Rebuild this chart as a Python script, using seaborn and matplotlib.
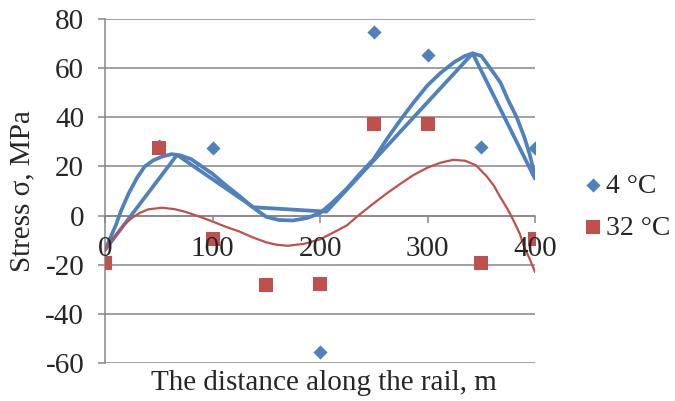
import matplotlib

matplotlib.use("Agg")
import matplotlib.pyplot as plt
import pandas as pd
import seaborn as sns

# measured points, stress in MPa along the rail (m)
dist = [0, 50, 100, 150, 200, 250, 300, 350, 400]
cold_x = [50, 100, 200, 250, 300, 350, 400]
cold_y = [28.3, 27.7, -55.7, 74.8, 65.3, 28.1, 27.7]
hot_y = [-19.2, 27.5, -9.7, -28.4, -28.0, 37.2, 37.2, -19.2, -9.7]

# blue broken line
cold_line_x = [0, 67, 138, 206, 342, 400]
cold_line_y = [-14, 24.7, 3.4, 1.6, 66, 15]

# trend curves
cold_trend_x = [0, 5, 10, 15, 22, 30, 37, 45, 53, 62, 70, 80, 90, 100, 112, 125,
                137, 150, 162, 175, 188, 200, 212, 225, 237, 250, 262, 275, 287,
                300, 312, 325, 335, 342, 350, 360, 368, 375, 383, 390, 395, 400]
cold_trend_y = [-14, -9, -4, 2, 9, 15.5, 20, 22.5, 24, 25, 24.5, 23, 20, 17, 12.5, 8,
                3.5, -0.5, -1.8, -2, -1, 1, 5.5, 11, 17, 23, 31, 39, 46,
                53, 58, 62.5, 65, 66, 65, 59, 54, 47, 40, 32, 25, 16]
hot_trend_x = [0, 5, 10, 17, 25, 32, 40, 53, 65, 75, 87, 100, 112, 125, 137, 150,
               160, 170, 185, 200, 212, 225, 237, 250, 262, 275, 287, 300, 312,
               324, 335, 345, 355, 362, 367, 374, 380, 386, 390, 395, 400]
hot_trend_y = [-14, -10.5, -8, -4, -1, 1, 2.5, 3.2, 2.6, 1.5, -0.3, -2.4, -4.5, -6.5, -8.8, -10.9,
               -11.9, -12.3, -11.5, -9.7, -7, -4, 0.5, 5, 9, 13, 16.5, 19.5, 21.5,
               22.7, 22.3, 20.5, 16, 12, 8, 3, -2, -7.5, -13, -17.5, -23]

y_ticks = [-60, -40, -20, 0, 20, 40, 60, 80]
x_ticks = [0, 100, 200, 300, 400]

BLUE = "#4F81BD"
RED = "#C0504D"
GREY = "#868686"
FS = 21

sns.set_theme(style="white")
plt.rcParams["font.family"] = ["Liberation Serif", "DejaVu Serif"]
plt.rcParams["font.size"] = FS

fig = plt.figure(figsize=(6.75, 4.01), dpi=100)
ax = fig.add_axes([105 / 675, 1 - 363 / 401, 430 / 675, 344 / 401])

cold_pts = pd.DataFrame({"x": cold_x, "y": cold_y})
hot_pts = pd.DataFrame({"x": dist, "y": hot_y})
cold_line = pd.DataFrame({"x": cold_line_x, "y": cold_line_y})
cold_trend = pd.DataFrame({"x": cold_trend_x, "y": cold_trend_y})
hot_trend = pd.DataFrame({"x": hot_trend_x, "y": hot_trend_y})

sns.lineplot(data=cold_line, x="x", y="y", ax=ax, color=BLUE, lw=2.7,
             sort=False, estimator=None, zorder=3)
sns.lineplot(data=cold_trend, x="x", y="y", ax=ax, color=BLUE, lw=2.7,
             sort=False, estimator=None, zorder=3)
sns.lineplot(data=hot_trend, x="x", y="y", ax=ax, color=RED, lw=1.6,
             sort=False, estimator=None, zorder=3)
sns.scatterplot(data=cold_pts, x="x", y="y", ax=ax, marker="D", s=52,
                color=BLUE, linewidth=0, label="4 °C", zorder=4)
sns.scatterplot(data=hot_pts, x="x", y="y", ax=ax, marker="s", s=110,
                color=RED, linewidth=0, label="32 °C", zorder=4)

ax.set_xlim(0, 400)
ax.set_ylim(-60, 80)
ax.set_yticks(y_ticks)
ax.set_xticks(x_ticks)
ax.set_yticklabels([str(v) for v in y_ticks])
ax.set_xticklabels([str(v) for v in x_ticks])

ax.yaxis.grid(True, color=GREY, lw=1.1)
ax.yaxis.set_zorder(0.5)
ax.xaxis.set_zorder(5)

for side in ("top", "right"):
    ax.spines[side].set_visible(False)
ax.spines["bottom"].set_position(("data", 0))
for side in ("left", "bottom"):
    ax.spines[side].set_color(GREY)
    ax.spines[side].set_linewidth(1.1)

ax.tick_params(axis="y", direction="out", length=5, width=1.1, color=GREY,
               pad=10, labelsize=FS, left=True)
ax.tick_params(axis="x", direction="out", length=5, width=1.1, color=GREY,
               pad=10, labelsize=FS, bottom=True)

ax.set_xlabel("The distance along the rail, m", fontsize=FS, va="center")
ax.xaxis.set_label_coords(0.51, -0.058)
ax.set_ylabel("Stress σ, MPa", fontsize=FS)
ax.yaxis.set_label_coords(-0.163, 0.5)

handles, labels = ax.get_legend_handles_labels()
ax.legend(handles, labels, loc="center left", frameon=False,
          bbox_to_anchor=(585 / 675, 1 - 207 / 401), bbox_transform=fig.transFigure,
          handlelength=0.6, handletextpad=0.15, labelspacing=0.6,
          borderaxespad=0, borderpad=0, fontsize=20)

fig.savefig("out.png", dpi=100)
